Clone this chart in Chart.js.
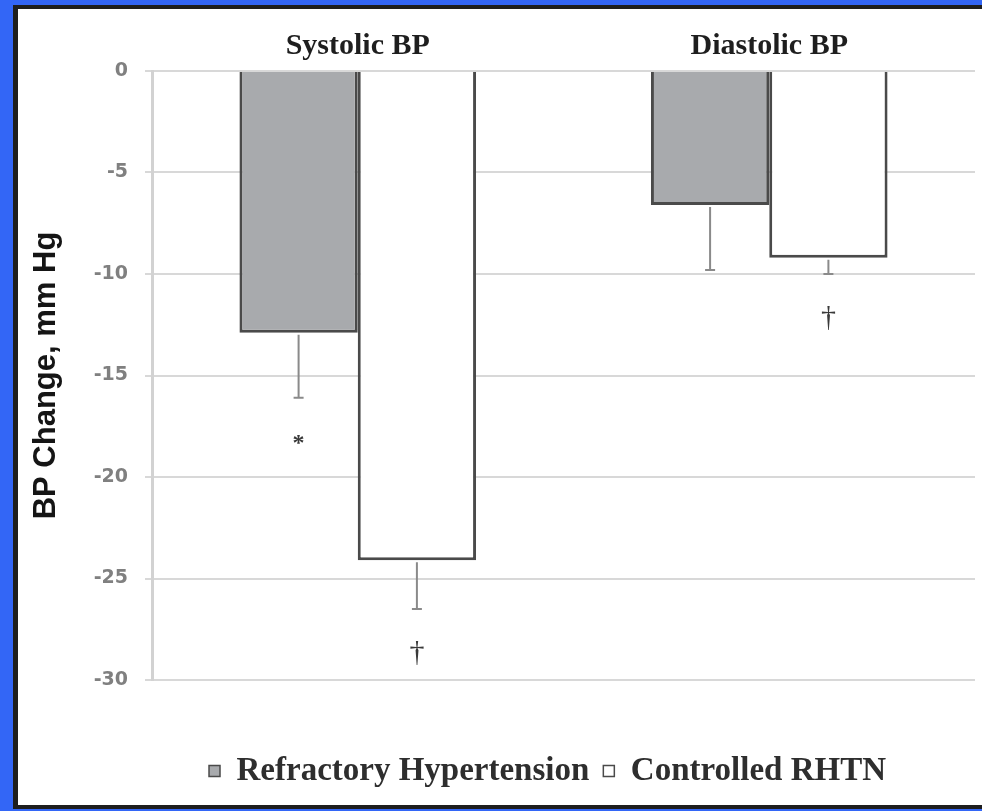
<!DOCTYPE html>
<html>
<head>
<meta charset="utf-8">
<script src="https://cdn.jsdelivr.net/npm/chart.js@4/dist/chart.umd.min.js"></script>
<style>
  html, body { margin: 0; padding: 0; width: 982px; height: 811px; overflow: hidden; background: #3366f6; }
  #frame { position: absolute; left: 13px; top: 5px; width: 964px; height: 796px;
           border-left: 5px solid #1e1e1e; border-top: 4px solid #1e1e1e; border-bottom: 4px solid #1e1e1e;
           background: #ffffff; }
  #wrap { position: absolute; left: 0; top: 0; width: 982px; height: 811px; }
</style>
</head>
<body>
<div id="frame"></div>
<div id="wrap"><canvas id="chart"></canvas></div>
<script>
// Mean BP change (mm Hg) per measure and group
const categories = ['Systolic BP', 'Diastolic BP'];
const seriesNames = ['Refractory Hypertension', 'Controlled RHTN'];
const refractoryChange = [-12.9, -6.6];
const controlledChange = [-24.1, -9.2];
// Error bar lengths (drawn below the bar end)
const refractoryErr = [3.2, 3.2];
const controlledErr = [2.4, 0.8];
// Significance marks under each error bar
const refractoryMarks = ['*', ''];
const controlledMarks = ['\u2020', '\u2020'];
// Y axis range and step
const yMin = -30, yMax = 0, yStep = 5;

const errors = [refractoryErr, controlledErr];
const marks = [refractoryMarks, controlledMarks];

const errorBarPlugin = {
  id: 'errorBars',
  afterDatasetsDraw(chart) {
    const ctx = chart.ctx;
    const y = chart.scales.y;
    chart.data.datasets.forEach((ds, i) => {
      const meta = chart.getDatasetMeta(i);
      meta.data.forEach((bar, j) => {
        const v = ds.data[j];
        const yBar = bar.y;
        const yEnd = y.getPixelForValue(v - errors[i][j]);
        ctx.save();
        ctx.strokeStyle = '#8a8a8a';
        ctx.lineWidth = 2;
        ctx.beginPath();
        ctx.moveTo(bar.x, yBar + 2);
        ctx.lineTo(bar.x, yEnd);
        ctx.moveTo(bar.x - 5, yEnd);
        ctx.lineTo(bar.x + 5, yEnd);
        ctx.stroke();
        const m = marks[i][j];
        if (m) {
          ctx.fillStyle = '#3a3a3a';
          ctx.textAlign = 'center';
          ctx.textBaseline = 'alphabetic';
          ctx.font = m === '*' ? 'bold 24px "Liberation Serif"' : '30px "Liberation Serif"';
          ctx.fillText(m, bar.x, yEnd + 52);
        }
        ctx.restore();
      });
    });
  }
};

// Centre the legend roughly under the plot area rather than the whole canvas
const legendUnderPlot = {
  id: 'legendUnderPlot',
  afterLayout(chart) {
    const lg = chart.legend;
    if (lg) {
      lg.left = chart.chartArea.left - 32;
      lg.right = chart.chartArea.right;
    }
  }
};

const chart = new Chart(document.getElementById('chart'), {
  type: 'bar',
  data: {
    labels: categories,
    datasets: [
      {
        label: seriesNames[0],
        data: refractoryChange,
        backgroundColor: '#a8aaad',
        borderColor: '#4a4a4a',
        borderWidth: 3,
        barPercentage: 1.0,
        categoryPercentage: 0.575
      },
      {
        label: seriesNames[1],
        data: controlledChange,
        backgroundColor: '#ffffff',
        borderColor: '#4a4a4a',
        borderWidth: 3,
        barPercentage: 1.0,
        categoryPercentage: 0.575
      }
    ]
  },
  options: {
    responsive: true,
    maintainAspectRatio: false,
    animation: false,
    layout: { padding: { left: 18, right: 7, top: 0, bottom: 13.5 } },
    scales: {
      x: {
        position: 'top',
        grid: { display: false, drawTicks: false },
        border: { display: false },
        ticks: {
          padding: 7,
          color: '#1e1e1e',
          font: { family: '"Liberation Serif"', weight: 'bold', size: 30 }
        },
        afterFit(scale) { scale.height = 71; }
      },
      y: {
        min: yMin,
        max: yMax,
        grid: { color: '#d8d8d8', lineWidth: 2, tickLength: 7 },
        border: { color: '#d2d2d2', width: 3 },
        ticks: {
          stepSize: yStep,
          padding: 17,
          color: '#808080',
          font: { family: '"DejaVu Sans"', weight: 'bold', size: 19 }
        },
        title: {
          display: true,
          text: 'BP Change, mm Hg',
          color: '#151515',
          padding: { top: 10, bottom: 0 },
          font: { family: '"Liberation Sans"', weight: 'bold', size: 31 }
        },
        afterFit(scale) { scale.width = 134; }
      }
    },
    plugins: {
      tooltip: { enabled: false },
      legend: {
        position: 'bottom',
        title: { display: true, text: '', padding: { top: 24, bottom: 24.5 }, font: { size: 10 } },
        labels: {
          boxWidth: 11,
          boxHeight: 11,
          padding: 14,
          color: '#2e2e2e',
          font: { family: '"Liberation Serif"', weight: 'bold', size: 33 },
          generateLabels(c) {
            return Chart.defaults.plugins.legend.labels.generateLabels(c).map(l => Object.assign(l, { lineWidth: 1.5 }));
          }
        }
      }
    }
  },
  plugins: [errorBarPlugin, legendUnderPlot]
});
</script>
</body>
</html>
